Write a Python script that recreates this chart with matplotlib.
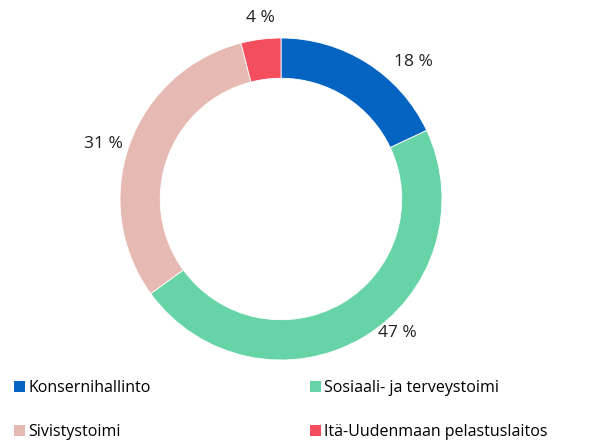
import matplotlib
matplotlib.use("Agg")
import matplotlib.pyplot as plt
from matplotlib.patches import Patch

categories = ["Konsernihallinto", "Sosiaali- ja terveystoimi", "Sivistystoimi", "Itä-Uudenmaan pelastuslaitos"]
values = [18, 47, 31, 4]
colors = ["#0563C1", "#66D4A6", "#E6BAB2", "#F44E5E"]
label_pos = [(413, 62), (397, 333), (103, 144), (260, 18)]  # pixel positions of value labels

W, H = 595, 441
fig = plt.figure(figsize=(W / 100, H / 100), dpi=100)
ax = fig.add_axes([0, 0, 1, 1])

cx, cy, R = 281, 199, 161
# y axis is flipped (pixel coords), so start at -90 and go counterclockwise in data
# which appears as clockwise from the top on screen
wedges, _ = ax.pie(values, colors=colors, startangle=-90, counterclock=True,
                   center=(cx, cy), radius=R, frame=True,
                   wedgeprops=dict(width=R * 0.25, edgecolor="white", linewidth=0.6))
ax.set_xlim(0, W)
ax.set_ylim(H, 0)
ax.set_aspect("equal")
ax.axis("off")

font = "Open Sans"
for v, (x, y) in zip(values, label_pos):
    ax.text(x, y, f"{v} %", ha="center", va="center", fontsize=12.5, family=font, color="#222222")

handles = [Patch(facecolor=c, edgecolor="none") for c in colors]
order = [0, 2, 1, 3]
leg = fig.legend([handles[i] for i in order], [categories[i] for i in order], ncol=2,
                 loc="upper left", bbox_to_anchor=(0.005, 0.1636), frameon=False,
                 prop=dict(family=font, size=11.5),
                 handlelength=0.7, handleheight=0.7, handletextpad=0.2,
                 columnspacing=9.95, labelspacing=1.75, borderaxespad=0.3)

fig.savefig("out.png", dpi=100)
